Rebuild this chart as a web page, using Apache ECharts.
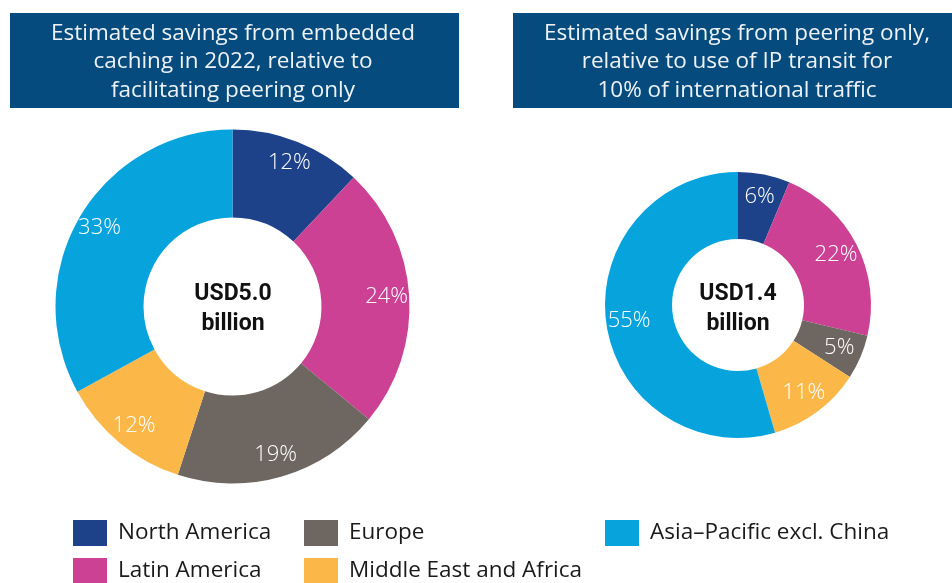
<!DOCTYPE html>
<html>
<head>
<meta charset="utf-8">
<script src="https://cdn.jsdelivr.net/npm/echarts@6/dist/echarts.min.js"></script>
<style>
html,body{margin:0;padding:0;background:#fff;}
#chart{width:952px;height:583px;}
</style>
</head>
<body>
<div id="chart"></div>
<script>
// ---- data ----
var regions = ['North America', 'Latin America', 'Europe', 'Middle East and Africa', 'Asia\u2013Pacific excl. China'];
var regionColors = ['#1d4289', '#cc4194', '#6e6660', '#fbb848', '#07a3dc'];
var cachingShares = [12, 24, 19, 12, 33];          // left donut, %
var peeringShares = [6.3, 22.4, 5.4, 11.4, 54.5];  // right donut, % (labels rounded)
var leftTitle = 'Estimated savings from embedded\ncaching in 2022, relative to\nfacilitating peering only';
var rightTitle = 'Estimated savings from peering only,\nrelative to use of IP transit for\n10% of international traffic';
var leftTotal = 'USD5.0\nbillion';
var rightTotal = 'USD1.4\nbillion';

var FONT = '"Open Sans", Roboto, "DejaVu Sans", sans-serif';
var BOLD_FONT = 'Roboto, "DejaVu Sans", sans-serif';

function toData(vals) {
  return regions.map(function (n, i) {
    return { name: n, value: vals[i], itemStyle: { color: regionColors[i] } };
  });
}

function donut(vals, center, r0, r1) {
  return {
    type: 'pie', center: center, radius: [r0, r1], startAngle: 90, clockwise: true,
    label: { show: false }, labelLine: { show: false },
    emphasis: { scale: false }, animation: false,
    data: toData(vals)
  };
}
function labelRing(vals, center, r0, r1) {
  return {
    type: 'pie', center: center, radius: [r0, r1], startAngle: 90, clockwise: true,
    silent: true, animation: false, legendHoverLink: false,
    itemStyle: { color: 'rgba(0,0,0,0)' },
    emphasis: { disabled: true },
    label: {
      show: true, position: 'inside', color: '#ffffff', fontFamily: FONT, fontSize: 22, fontWeight: 300,
      formatter: function (p) { return Math.round(p.value) + '%'; }
    },
    labelLine: { show: false },
    data: regions.map(function (n, i) { return { name: n, value: vals[i] }; })
  };
}

var chart = echarts.init(document.getElementById('chart'), null, { renderer: 'canvas' });

var legendText = { fontFamily: FONT, fontSize: 22.5, color: '#1a1a1a', padding: [4, 0, 0, 6] };
function legend(left, top, name) {
  return {
    left: left, top: top, orient: 'horizontal', itemWidth: 34, itemHeight: 26,
    icon: 'rect', data: [name], textStyle: legendText, selectedMode: false, padding: 0
  };
}

chart.setOption({
  animation: false,
  legend: [
    legend(73, 520, regions[0]),
    legend(73, 558, regions[1]),
    legend(304, 520, regions[2]),
    legend(304, 558, regions[3]),
    legend(605, 520, regions[4])
  ],
  graphic: [
    { type: 'rect', shape: { x: 10, y: 13, width: 449, height: 95 }, style: { fill: '#054b7e' } },
    { type: 'rect', shape: { x: 513, y: 13, width: 439, height: 95 }, style: { fill: '#054b7e' } },
    { type: 'text', style: { text: leftTitle, x: 233, y: 62, align: 'center', verticalAlign: 'middle',
      fontFamily: FONT, fontSize: 22.5, fontWeight: 'normal', lineHeight: 28.5, fill: '#eef2f6' } },
    { type: 'text', style: { text: rightTitle, x: 737, y: 62, align: 'center', verticalAlign: 'middle',
      fontFamily: FONT, fontSize: 22.5, fontWeight: 'normal', lineHeight: 28.5, fill: '#eef2f6' } },
    { type: 'text', style: { text: leftTotal, x: 233, y: 309, align: 'center', verticalAlign: 'middle',
      fontFamily: BOLD_FONT, fontSize: 23, fontWeight: 'bold', lineHeight: 30, fill: '#111111' } },
    { type: 'text', style: { text: rightTotal, x: 738, y: 309, align: 'center', verticalAlign: 'middle',
      fontFamily: BOLD_FONT, fontSize: 23, fontWeight: 'bold', lineHeight: 30, fill: '#111111' } }
  ],
  series: [
    donut(cachingShares, [232.5, 306.5], 89, 177),
    donut(peeringShares, [738, 305], 66, 133),
    labelRing(cachingShares, [232.5, 306.5], 126, 177),
    labelRing(peeringShares, [738, 305], 81, 133)
  ]
});
</script>
</body>
</html>
